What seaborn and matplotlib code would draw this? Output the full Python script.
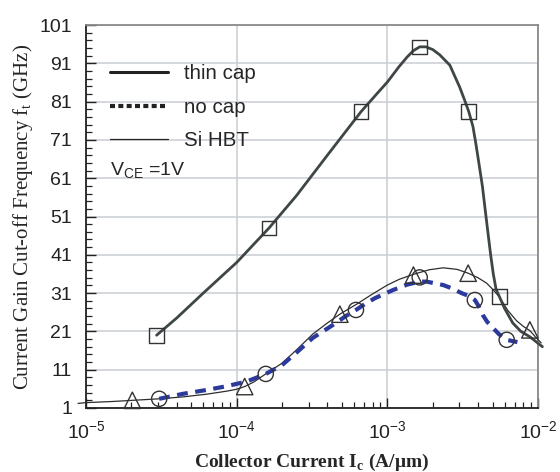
import numpy as np
import pandas as pd
import seaborn as sns
import matplotlib.pyplot as plt
from matplotlib.lines import Line2D
from matplotlib.ticker import FixedLocator, LogLocator, NullFormatter

# Curves (Ic in A/um, ft in GHz)
thin_cap_ic = [2.94e-5, 4e-5, 6e-5, 1e-4, 1.64e-4, 2.5e-4, 4e-4, 6.7e-4, 8.5e-4, 1e-3,
               1.2e-3, 1.35e-3, 1.49e-3, 1.64e-3, 1.8e-3, 2e-3, 2.23e-3, 2.6e-3, 3.02e-3,
               3.25e-3, 3.47e-3, 3.7e-3, 3.87e-3, 4.05e-3, 4.28e-3, 4.47e-3, 4.66e-3,
               4.85e-3, 5.05e-3, 5.27e-3, 5.54e-3, 6e-3, 6.8e-3, 7.7e-3, 8.83e-3, 1.07e-2]
thin_cap_ft = [20, 24.5, 31, 39, 48, 56.5, 67, 78.4, 83, 86.1,
               90.2, 92.6, 94.3, 95.3, 95.3, 94.6, 93.2, 90.5, 84.8,
               81.5, 78.4, 74.5, 70, 65, 58.8, 52.5, 46.6,
               41, 36, 32, 30.1, 27, 23.2, 21, 19.6, 17]

no_cap_ic = [3.06e-5, 4.4e-5, 6.3e-5, 8.6e-5, 1.16e-4, 1.35e-4, 1.56e-4, 2e-4, 2.5e-4,
             3.2e-4, 4.36e-4, 5.3e-4, 6.19e-4, 7.2e-4, 8.3e-4, 1.09e-3, 1.35e-3, 1.64e-3,
             1.82e-3, 2.35e-3, 2.7e-3, 3.11e-3, 3.5e-3, 3.81e-3, 4.05e-3, 4.3e-3, 4.6e-3,
             5e-3, 5.5e-3, 6.2e-3, 7.3e-3]
no_cap_ft = [3.4, 4.7, 5.7, 6.7, 7.9, 8.9, 9.9, 12.2, 15.5,
             19.3, 22.7, 25, 26.6, 28.3, 29.7, 31.8, 33.2, 34,
             34, 33.1, 32.2, 31, 30.2, 29.2, 27.5, 25.3, 23.5,
             22, 20.3, 18.8, 18.2]

si_hbt_ic = [8.85e-6, 1e-5, 1.5e-5, 2.03e-5, 3.06e-5, 4.4e-5, 6.3e-5, 8.6e-5, 1e-4,
             1.13e-4, 1.3e-4, 1.56e-4, 2e-4, 2.5e-4, 3.2e-4, 4e-4, 4.84e-4, 6.19e-4,
             8e-4, 1e-3, 1.2e-3, 1.49e-3, 1.9e-3, 2.35e-3, 2.9e-3, 3.44e-3, 4e-3,
             4.56e-3, 5e-3, 5.54e-3, 6.3e-3, 7.2e-3, 8e-3, 8.83e-3, 9.6e-3, 1.05e-2]
si_hbt_ft = [2.2, 2.4, 2.7, 3.0, 3.4, 3.9, 4.6, 5.4, 5.9,
             6.6, 7.8, 9.9, 12.7, 16.2, 20.3, 23.2, 25.5, 28,
             30.8, 33.1, 34.6, 35.9, 37.1, 37.6, 37.2, 36.2, 35,
             33.6, 32, 30, 26.5, 23.8, 22.3, 21.2, 19.6, 18]

# Measured points (markers)
sq_ic = [2.94e-5, 1.64e-4, 6.7e-4, 1.64e-3, 3.47e-3, 5.54e-3]
sq_ft = [20, 48, 78.4, 95.3, 78.4, 30.1]
circ_ic = [3.06e-5, 1.56e-4, 6.19e-4, 1.64e-3, 3.81e-3, 6.2e-3]
circ_ft = [3.4, 9.9, 26.6, 35.1, 29.2, 18.8]
tri_ic = [2.03e-5, 1.13e-4, 4.84e-4, 1.49e-3, 3.44e-3, 8.83e-3]
tri_ft = [3.0, 6.6, 25.5, 35.7, 36.2, 21.4]

y_ticks = [1, 11, 21, 31, 41, 51, 61, 71, 81, 91, 101]

thick_col = '#3f4646'
thin_col = '#2e2e2e'
blue_col = '#2b3a9c'

sns.set_style("white")
plt.rcParams['font.family'] = ['Liberation Sans', 'DejaVu Sans']

fig = plt.figure(figsize=(5.6, 4.72), dpi=100)
ax = fig.add_axes([0.1536, 0.1356, 0.8071, 0.8114])
ax.set_xscale('log')

# Curves
sns.lineplot(x=si_hbt_ic, y=si_hbt_ft, sort=False, estimator=None, ax=ax,
             color=thin_col, lw=0.9, clip_on=False, zorder=3)
sns.lineplot(x=no_cap_ic, y=no_cap_ft, sort=False, estimator=None, ax=ax,
             color=blue_col, lw=3.0, clip_on=False, zorder=4)
ax.lines[-1].set_dashes([2.6, 1.8])
sns.lineplot(x=thin_cap_ic, y=thin_cap_ft, sort=False, estimator=None, ax=ax,
             color=thick_col, lw=2.0, clip_on=False, zorder=5)

# Markers
mk = dict(facecolor='none', edgecolor='#333333', linewidth=1.0, zorder=6, clip_on=False)
sns.scatterplot(x=sq_ic, y=sq_ft, marker='s', s=110, ax=ax, **mk)
sns.scatterplot(x=circ_ic, y=circ_ft, marker='o', s=120, ax=ax, **mk)
sns.scatterplot(x=tri_ic, y=tri_ft, marker='^', s=140, ax=ax, **mk)

# Axes
ax.set_xlim(1e-5, 1e-2)
ax.set_ylim(1, 101)
ax.set_yticks(y_ticks)
ax.yaxis.set_minor_locator(FixedLocator(np.arange(3, 101, 2)))
ax.xaxis.set_minor_locator(LogLocator(base=10, subs=np.arange(2, 10), numticks=20))
ax.xaxis.set_minor_formatter(NullFormatter())
ax.set_xticks([1e-5, 1e-4, 1e-3, 1e-2])
ax.set_xticklabels([r'10$^{\mathregular{-5}}$', r'10$^{\mathregular{-4}}$',
                    r'10$^{\mathregular{-3}}$', r'10$^{\mathregular{-2}}$'])
ax.tick_params(axis='both', which='major', direction='in', length=7, width=1,
               labelsize=14, colors='#222222')
ax.tick_params(axis='x', which='major', pad=9)
ax.tick_params(axis='y', which='major', pad=10)
ax.tick_params(axis='both', which='minor', direction='in', length=4, width=0.9,
               colors='#222222')
ax.tick_params(axis='y', which='both', left=True, right=False)
ax.tick_params(axis='x', which='both', bottom=True, top=False)

ax.grid(True, which='major', color='#c9ced3', lw=1.1)
ax.set_axisbelow(True)
for side in ['top', 'right']:
    ax.spines[side].set_color('#8a8a8a')
    ax.spines[side].set_linewidth(1.3)
for side in ['left', 'bottom']:
    ax.spines[side].set_color('#222222')
    ax.spines[side].set_linewidth(1.3)

ax.set_xlabel(r'Collector Current I$_{\mathregular{c}}$ (A/$\mathregular{\mu}$m)',
              family='Liberation Serif', fontsize=14, fontweight='bold', labelpad=6)
ax.set_ylabel(r'Current Gain Cut-off Frequency f$_{\mathregular{t}}$ (GHz)',
              family='Liberation Serif', fontsize=15, labelpad=3)

# Legend
handles = [Line2D([], [], color='#222222', lw=2.2),
           Line2D([], [], color='#222222', lw=3.0, ls=(0, (1.2, 0.8))),
           Line2D([], [], color='#222222', lw=0.9)]
ax.legend(handles, ['thin cap', 'no cap', 'Si HBT'], loc='upper left',
          bbox_to_anchor=(0.053, 0.897), frameon=False, fontsize=14.8,
          borderaxespad=0, borderpad=0,
          handlelength=2.8, handletextpad=0.8, labelspacing=0.7)
ax.text(0.053, 0.62, r'V$_{\mathregular{CE}}$ =1V', transform=ax.transAxes,
        fontsize=14, ha='left', va='center')

fig.savefig('out.png', dpi=100)
